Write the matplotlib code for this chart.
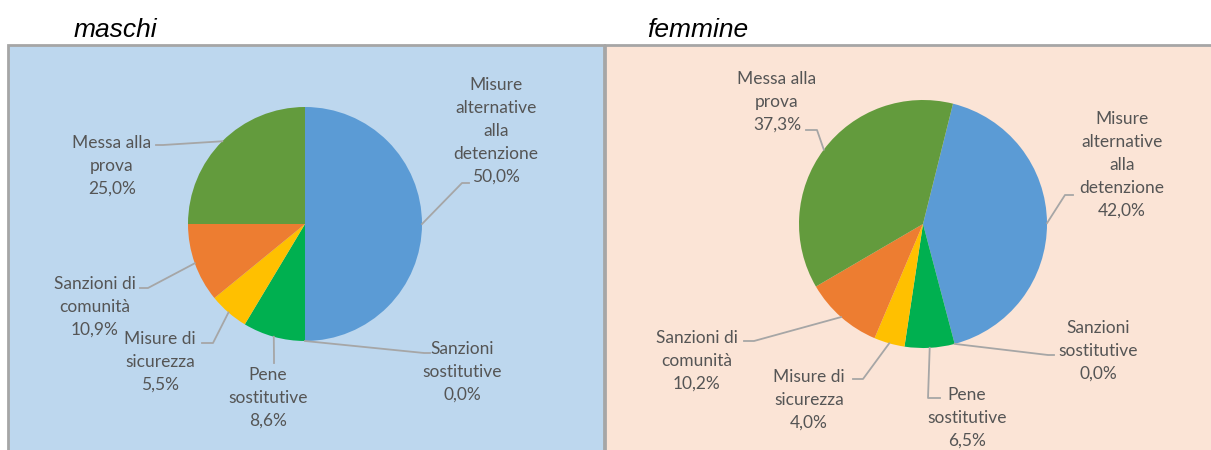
import numpy as np
import matplotlib
matplotlib.use("Agg")
import matplotlib.pyplot as plt
from matplotlib.patches import Rectangle

# dati
categorie = ["Misure\nalternative\nalla\ndetenzione", "Sanzioni\nsostitutive", "Pene\nsostitutive",
             "Misure di\nsicurezza", "Sanzioni di\ncomunità", "Messa alla\nprova"]
maschi = [50.0, 0.0, 8.6, 5.5, 10.9, 25.0]
femmine = [42.0, 0.0, 6.5, 4.0, 10.2, 37.3]
titoli = ["maschi", "femmine"]

colori = ["#5B9BD5", "#A5A5A5", "#00B050", "#FFC000", "#ED7D31", "#639B3D"]

W, H = 1211, 450
fig = plt.figure(figsize=(W / 100, H / 100), dpi=100)
ax = fig.add_axes([0, 0, 1, 1])
ax.set_xlim(0, W)
ax.set_ylim(0, H)
ax.axis("off")


def Y(y):
    return H - y


# pannelli: posizione, colore, centro torta, etichette
pannelli = [
    dict(x0=8, x1=604, fc="#BDD7EE", tx=115, cx=305, cy=224, r=117, rot=0,
         lab=[(496, 131), (462, 372), (268, 398), (160, 362), (95, 307), (112, 166)],
         elb=[(462, 183), (424, 353), (274, 356), (213, 343), (148, 288), (163, 145)],
         tick=[(469, 183), (430, 353), (274, 363), (202, 343), (140, 288), (156, 145)]),
    dict(x0=605, x1=1216, fc="#FBE4D6", tx=698, cx=923, cy=224, r=124, rot=14,
         lab=[(1122, 165), (1098, 351), (967, 418), (809, 400), (697, 361), (777, 102)],
         elb=[(1065, 195), (1048, 355), (928, 398), (863, 379), (754, 341), (817, 130)],
         tick=[(1073, 195), (1054, 355), (940, 398), (853, 379), (744, 341), (806, 130)]),
]

for p, valori, titolo in zip(pannelli, [maschi, femmine], titoli):
    ax.add_patch(Rectangle((p["x0"], Y(460)), p["x1"] - p["x0"], 415,
                           facecolor=p["fc"], edgecolor="#A6A6A6", linewidth=2, zorder=0))
    ax.text(p["tx"], Y(30), titolo, ha="center", va="center", fontsize=19,
            style="italic", family="Liberation Sans", color="black")

    wedges, _ = ax.pie(valori, colors=colori, startangle=90 - p["rot"], counterclock=False,
                       center=(p["cx"], Y(p["cy"])), radius=p["r"], frame=True,
                       wedgeprops=dict(linewidth=0))
    for i, w in enumerate(wedges):
        ang = np.deg2rad((w.theta1 + w.theta2) / 2)
        x0 = p["cx"] + p["r"] * np.cos(ang)
        y0 = Y(p["cy"]) + p["r"] * np.sin(ang)
        ex, ey = p["elb"][i]
        tx, ty = p["tick"][i]
        ax.plot([x0, ex, tx], [y0, Y(ey), Y(ty)], color="#A6A6A6", lw=1.3, zorder=3)
        testo = categorie[i] + "\n" + f"{valori[i]:.1f}".replace(".", ",") + "%"
        lx, ly = p["lab"][i]
        ax.text(lx, Y(ly), testo, ha="center", va="center", multialignment="center",
                fontsize=12.5, family=["Lato", "DejaVu Sans"], color="#555555",
                linespacing=1.52, zorder=4)

ax.set_xlim(0, W)
ax.set_ylim(0, H)
ax.set_aspect("auto")
fig.savefig("out.png", dpi=100, facecolor="white")
